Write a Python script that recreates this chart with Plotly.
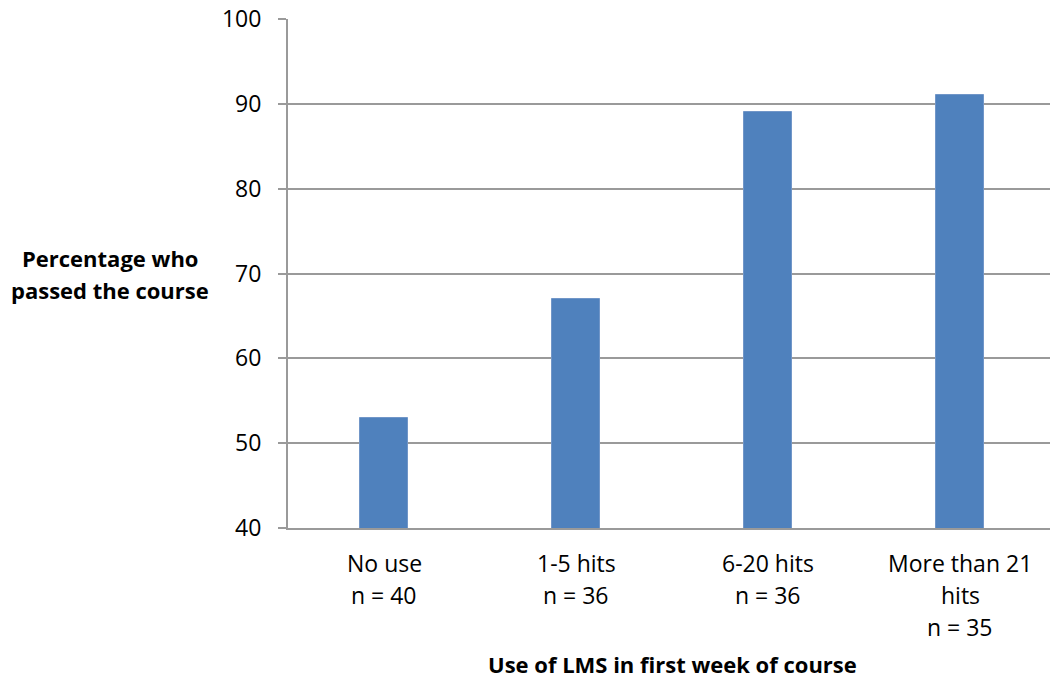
import plotly.graph_objects as go

# Share of students who passed, by LMS activity in the first week
categories = ["No use", "1-5 hits", "6-20 hits", "More than 21 hits"]
label_lines = [["No use", "n = 40"], ["1-5 hits", "n = 36"], ["6-20 hits", "n = 36"],
               ["More than 21", "hits", "n = 35"]]
pass_pct = [53, 67, 89, 91]
y_ticks = [40, 50, 60, 70, 80, 90, 100]

FONT = "Open Sans"
SIZE = 23
BOLD_SIZE = 22
GRID = "#9a9a9a"

fig = go.Figure()
fig.add_trace(go.Bar(
    x=list(range(len(categories))),
    y=pass_pct,
    width=0.25,
    marker=dict(color="#4f81bd", line=dict(color="#7196c8", width=1)),
    hovertext=categories,
    showlegend=False,
))

annotations = []
# Category labels, one line at a time beneath each bar
for i, lines in enumerate(label_lines):
    for j, line in enumerate(lines):
        annotations.append(dict(
            x=i, xref="x", y=0, yref="paper", yanchor="middle", xanchor="center",
            yshift=-35 - 32 * j, text=line, showarrow=False,
            font=dict(family=FONT, size=SIZE, color="#000000"),
        ))

# Axis titles
for j, line in enumerate(["Percentage who", "passed the course"]):
    annotations.append(dict(
        x=0, xref="paper", xshift=-178, xanchor="center",
        y=(528 - 258 - 32 * j) / 509, yref="paper", yanchor="middle",
        text=f"<b>{line}</b>", showarrow=False,
        font=dict(family=FONT, size=BOLD_SIZE, color="#000000"),
    ))
annotations.append(dict(
    x=(672 - 288) / 762, xref="paper", xanchor="center",
    y=0, yref="paper", yshift=-136, yanchor="middle",
    text="<b>Use of LMS in first week of course</b>", showarrow=False,
    font=dict(family=FONT, size=BOLD_SIZE, color="#000000"),
))

fig.update_layout(
    width=1050, height=682,
    margin=dict(l=288, r=0, t=19, b=154),
    paper_bgcolor="white", plot_bgcolor="white",
    bargap=0,
    annotations=annotations,
    xaxis=dict(
        range=[-0.5, -0.5 + 762 / 192], showticklabels=False, ticks="",
        showgrid=False, zeroline=False, showline=True, linecolor=GRID, linewidth=2,
        fixedrange=True,
    ),
    yaxis=dict(
        range=[40, 100], tickvals=y_ticks, ticks="outside", ticklen=8, tickwidth=2,
        tickcolor=GRID, showgrid=True, gridcolor=GRID, gridwidth=2,
        showline=True, linecolor=GRID, linewidth=2, zeroline=False,
        tickfont=dict(family=FONT, size=SIZE, color="#000000"), ticklabelstandoff=12,
        fixedrange=True,
    ),
)

fig.write_html("out.html")
